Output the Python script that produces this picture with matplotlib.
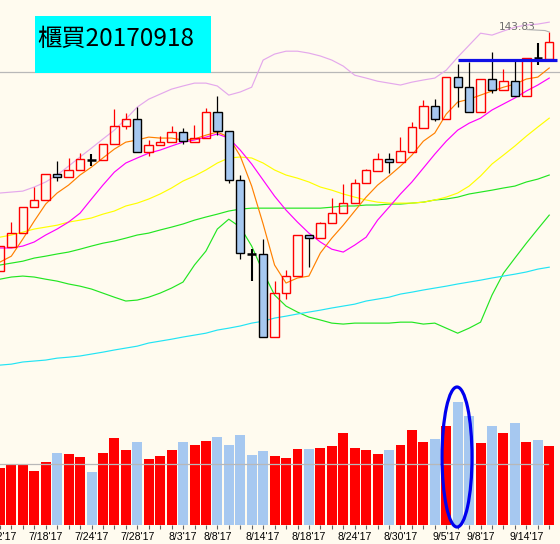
import matplotlib
matplotlib.use("Agg")
import matplotlib.pyplot as plt
from matplotlib.patches import Rectangle, Ellipse
import numpy as np

# ---------------- data ----------------
dates = ["7/12", "7/13", "7/14", "7/17", "7/18", "7/19", "7/20", "7/21", "7/24", "7/25",
         "7/26", "7/27", "7/28", "7/31", "8/1", "8/2", "8/3", "8/4", "8/7", "8/8",
         "8/9", "8/10", "8/11", "8/14", "8/15", "8/16", "8/17", "8/18", "8/21", "8/22",
         "8/23", "8/24", "8/25", "8/28", "8/29", "8/30", "8/31", "9/1", "9/4", "9/5",
         "9/6", "9/7", "9/8", "9/11", "9/12", "9/13", "9/14", "9/15", "9/18"]

tick_dates = ["7/12", "7/18", "7/24", "7/28", "8/3", "8/8", "8/14", "8/18",
              "8/24", "8/30", "9/5", "9/8", "9/14"]

opens = [133.87, 134.87, 135.45, 136.54, 136.83, 137.91, 137.79, 138.08, 138.50, 138.50,
         139.16, 139.91, 140.20, 138.83, 139.12, 139.25, 139.66, 139.25, 139.41, 140.50,
         139.70, 137.66, 134.58, 134.58, 131.12, 132.95, 133.66, 135.37, 135.25, 135.87,
         136.29, 136.70, 137.54, 138.04, 138.54, 138.41, 138.83, 139.83, 140.75, 140.20,
         141.95, 141.54, 140.50, 141.87, 141.41, 141.79, 141.16, 142.73, 142.70]
closes = [134.91, 135.45, 136.54, 136.83, 137.91, 137.79, 138.08, 138.54, 138.50, 139.16,
          139.91, 140.20, 138.83, 139.12, 139.25, 139.66, 139.29, 139.41, 140.50, 139.70,
          137.66, 134.62, 134.58, 131.12, 132.95, 133.66, 135.37, 135.25, 135.87, 136.29,
          136.70, 137.54, 138.08, 138.54, 138.41, 138.87, 139.87, 140.75, 140.20, 141.95,
          141.54, 140.50, 141.87, 141.41, 141.79, 141.16, 142.75, 142.73, 143.41]
highs = [134.91, 135.91, 136.54, 137.37, 137.91, 138.45, 138.58, 138.79, 138.75, 139.16,
         140.62, 140.45, 140.70, 139.33, 139.50, 139.91, 139.83, 139.95, 140.66, 141.16,
         139.70, 137.87, 134.79, 135.20, 133.45, 133.91, 135.37, 135.37, 135.91, 136.91,
         137.50, 137.70, 138.12, 138.79, 138.79, 139.45, 140.08, 141.00, 141.04, 141.95,
         142.50, 142.58, 141.87, 143.00, 142.29, 142.62, 142.75, 143.37, 143.83]
lows = [133.87, 134.87, 135.45, 136.54, 136.83, 137.62, 137.79, 138.08, 138.25, 138.50,
        139.16, 139.79, 138.83, 138.66, 139.12, 139.25, 139.16, 139.25, 139.41, 139.54,
        137.54, 134.37, 133.45, 131.12, 131.12, 132.70, 133.66, 134.04, 135.25, 135.87,
        136.29, 136.70, 137.54, 138.04, 137.95, 138.41, 138.83, 139.83, 140.12, 140.20,
        140.70, 140.50, 140.50, 141.29, 141.41, 141.16, 141.16, 142.45, 142.70]

volumes = [458, 482, 482, 434, 506, 578, 568, 546, 426, 578,
           698, 600, 666, 530, 552, 600, 666, 640, 674, 706,
           640, 720, 560, 594, 552, 538, 608, 608, 618, 634,
           738, 618, 602, 568, 600, 642, 762, 666, 690, 794,
           986, 874, 658, 794, 738, 818, 666, 682, 634]
volume_avg = 486

ma5 = [134.24, 134.49, 135.20, 135.95, 136.66, 137.12, 137.45, 137.87, 138.20, 138.58,
       138.95, 139.24, 139.33, 139.45, 139.41, 139.41, 139.33, 139.37, 139.53, 139.66,
       139.45, 138.66, 137.41, 135.83, 134.12, 133.37, 133.58, 133.66, 134.62, 135.24,
       135.78, 136.37, 136.95, 137.45, 137.83, 138.24, 138.70, 139.28, 139.62, 140.41,
       140.91, 141.03, 141.20, 141.37, 141.53, 141.66, 141.87, 141.95, 142.33]
ma10 = [134.83, 134.83, 134.91, 135.08, 135.37, 135.62, 135.91, 136.28, 136.87, 137.45,
        137.99, 138.37, 138.58, 138.78, 138.91, 139.08, 139.24, 139.33, 139.45, 139.58,
        139.41, 138.91, 138.33, 137.66, 136.99, 136.41, 135.91, 135.45, 135.08, 134.78,
        134.66, 134.95, 135.28, 135.99, 136.53, 137.08, 137.58, 138.16, 138.74, 139.28,
        139.74, 140.03, 140.24, 140.58, 140.83, 141.08, 141.37, 141.62, 141.91]
ma20 = [135.28, 135.37, 135.49, 135.62, 135.70, 135.78, 135.91, 135.99, 136.08, 136.24,
        136.37, 136.58, 136.70, 136.87, 137.08, 137.33, 137.62, 137.83, 138.08, 138.37,
        138.58, 138.62, 138.58, 138.37, 138.08, 137.87, 137.74, 137.58, 137.37, 137.24,
        137.08, 136.95, 136.83, 136.74, 136.70, 136.70, 136.70, 136.74, 136.83, 136.95,
        137.12, 137.41, 137.83, 138.33, 138.70, 139.08, 139.49, 139.87, 140.24]
bb_upper = [137.12, 137.16, 137.20, 137.37, 137.58, 137.87, 138.24, 138.62, 138.99, 139.37,
            139.74, 140.20, 140.70, 141.03, 141.24, 141.45, 141.58, 141.70, 141.70, 141.58,
            141.20, 141.33, 141.53, 142.66, 142.91, 143.03, 143.03, 142.95, 142.83, 142.66,
            142.41, 142.03, 141.91, 141.78, 141.70, 141.62, 141.74, 141.83, 141.91, 142.24,
            142.78, 143.28, 143.78, 143.70, 143.87, 144.03, 144.12, 144.16, 144.24]
bb_lower = [133.53, 133.62, 133.66, 133.62, 133.53, 133.45, 133.33, 133.24, 133.12, 132.95,
            132.78, 132.62, 132.66, 132.78, 132.95, 133.16, 133.41, 134.12, 134.70, 135.62,
            136.03, 135.70, 134.91, 133.83, 132.87, 132.41, 132.16, 131.95, 131.83, 131.70,
            131.66, 131.70, 131.70, 131.70, 131.70, 131.74, 131.74, 131.66, 131.70, 131.49,
            131.28, 131.49, 131.74, 132.87, 133.78, 134.41, 135.03, 135.62, 136.20]
ma60 = [134.12, 134.20, 134.28, 134.41, 134.49, 134.58, 134.66, 134.78, 134.91, 135.03,
        135.12, 135.24, 135.37, 135.45, 135.58, 135.70, 135.83, 135.99, 136.12, 136.24,
        136.37, 136.45, 136.49, 136.49, 136.49, 136.49, 136.49, 136.49, 136.49, 136.53,
        136.58, 136.58, 136.62, 136.62, 136.66, 136.66, 136.70, 136.74, 136.83, 136.87,
        136.95, 137.08, 137.16, 137.24, 137.33, 137.41, 137.58, 137.70, 137.87]
ma120 = [129.95, 129.99, 130.08, 130.12, 130.16, 130.24, 130.28, 130.33, 130.41, 130.49,
         130.58, 130.66, 130.74, 130.87, 130.95, 131.03, 131.12, 131.20, 131.28, 131.41,
         131.49, 131.58, 131.70, 131.78, 131.91, 131.99, 132.08, 132.16, 132.24, 132.33,
         132.41, 132.49, 132.62, 132.70, 132.78, 132.91, 132.99, 133.08, 133.16, 133.24,
         133.33, 133.41, 133.49, 133.58, 133.66, 133.74, 133.83, 133.95, 134.03]

title_text = "櫃買20170918"
high_label = "143.83"
resistance = 142.66

# ---------------- style ----------------
BG = "#fffbef"
RED = "#ff0000"
LBLUE = "#a6c8f0"
W, H = 560, 544

def fx(px):
    return px / W

def fy(py):
    return 1 - py / H

fig = plt.figure(figsize=(5.6, 5.44), dpi=100)
fig.patch.set_facecolor(BG)

axp = fig.add_axes([0, fy(375), 1, 375 / H])
axv = fig.add_axes([0, fy(525), 1, 150 / H])
for ax in (axp, axv):
    ax.set_facecolor(BG)
    for s in ax.spines.values():
        s.set_visible(False)
    ax.set_xlim(0.01, 48.94)
axp.set_ylim(145.163 - 375 / 24, 145.163)
axv.set_ylim(0, 1200)
axp.set_xticks([])
axp.set_yticks([])
axv.set_yticks([])

n = len(dates)
x = np.arange(n)

# reference lines
axp.axhline(142.16, color="#b8b8b8", lw=0.9, zorder=1)

# moving averages / bands
lw = 0.85
axp.plot(x, bb_upper, color="#e4a8ec", lw=lw, zorder=2)
axp.plot(x, bb_lower, color="#22e622", lw=lw, zorder=2)
axp.plot(x, ma60, color="#22e622", lw=lw, zorder=2)
axp.plot(x, ma120, color="#22e4f4", lw=lw, zorder=2)
axp.plot(x, ma20, color="#ffff00", lw=lw, zorder=2)
axp.plot(x, ma10, color="#ff00ff", lw=lw, zorder=2)
axp.plot(x, ma5, color="#ff8000", lw=lw, zorder=2)

# candles
bw = 0.73
for i in range(n):
    o, h, l, c = opens[i], highs[i], lows[i], closes[i]
    if c > o:
        axp.vlines(i, c, h, color=RED, lw=0.9, zorder=4)
        axp.vlines(i, l, o, color=RED, lw=0.9, zorder=4)
        axp.add_patch(Rectangle((i - bw / 2, o), bw, c - o, facecolor="none",
                                edgecolor=RED, lw=1.0, zorder=5))
    elif c < o:
        axp.vlines(i, o, h, color="black", lw=0.9, zorder=4)
        axp.vlines(i, l, c, color="black", lw=0.9, zorder=4)
        axp.add_patch(Rectangle((i - bw / 2, c), bw, o - c, facecolor=LBLUE,
                                edgecolor="black", lw=1.0, zorder=5))
    else:
        axp.vlines(i, l, h, color="black", lw=1.5, zorder=5)
        axp.hlines(c, i - bw / 2, i + bw / 2, color="black", lw=1.8, zorder=5)

# resistance line
axp.plot([40.03, 48.68], [resistance, resistance], color="#1010e6", lw=2.3,
         solid_capstyle="butt", zorder=6, clip_on=False)

# high label
axp.text(43.6, 144.04, high_label, fontsize=7.6, color="#6e6e6e",
         family="Liberation Sans Narrow", ha="left", va="center", zorder=6)
axp.plot([46.06, 47.63, 48.0], [143.93, 143.89, 143.83], color="#b0b0b0",
         lw=0.8, zorder=6)

# volume
vcolors = [RED if closes[i] > opens[i] else LBLUE for i in range(n)]
axv.bar(x, volumes, width=0.87, color=vcolors, zorder=2)
axv.plot([0.01, 47.9], [volume_avg, volume_avg], color="#b8b8b8", lw=0.9, zorder=3)
axv.add_patch(Ellipse((39.94, 544), 2.62, 1120, facecolor="none",
                      edgecolor="#0000ee", lw=2.3, zorder=5, clip_on=False))

# x ticks
tick_pos = [dates.index(d) for d in tick_dates]
axv.set_xticks(x, minor=True)
axv.set_xticks(tick_pos)
axv.set_xticklabels([d + "'17" for d in tick_dates], family="Liberation Sans",
                    fontsize=7.6)
axv.tick_params(axis="x", which="both", length=3, width=0.8, color="#606060",
                pad=2, direction="out")

# title box
fig.patches.append(Rectangle((fx(35), fy(73)), fx(176), 57 / H,
                             transform=fig.transFigure, facecolor="#00ffff",
                             edgecolor="none", zorder=10))
fig.text(fx(37), fy(39), title_text, fontsize=17.5,
         family=["Noto Sans CJK TC", "DejaVu Sans"], ha="left", va="center",
         color="black", zorder=11)

fig.savefig("out.png", dpi=100, facecolor=BG)
